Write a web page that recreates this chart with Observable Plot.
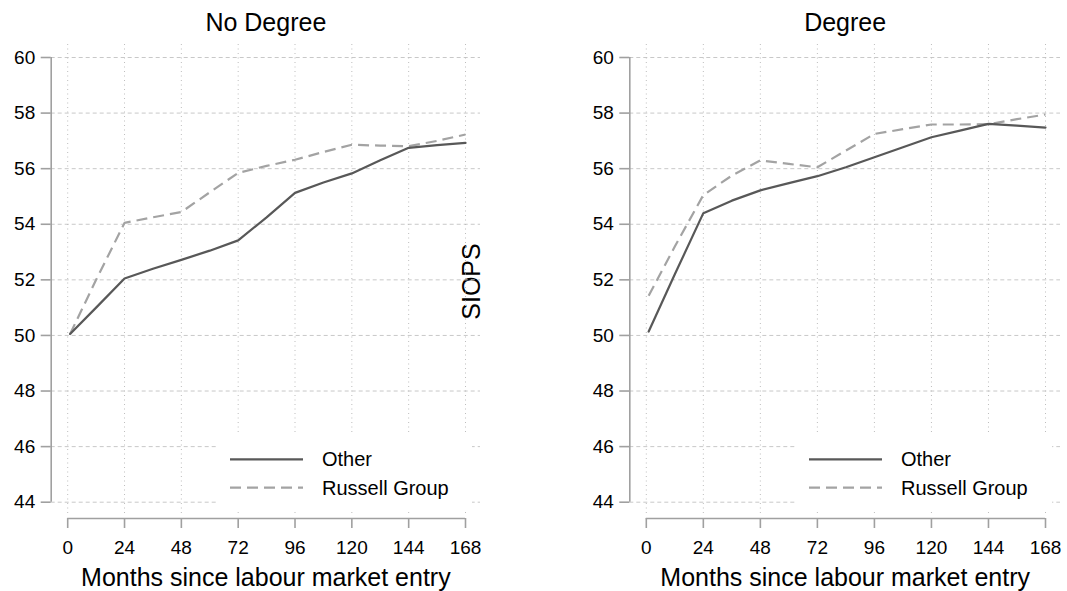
<!DOCTYPE html>
<html>
<head>
<meta charset="utf-8">
<script src="https://cdn.jsdelivr.net/npm/d3@7"></script>
<script src="https://cdn.jsdelivr.net/npm/@observablehq/plot@0.6"></script>
<style>
  body { margin: 0; background: #fff; }
  #wrap { position: relative; width: 1067px; height: 591px; overflow: hidden; background: #fff;
          font-family: "Liberation Sans", Arial, Helvetica, sans-serif; }
  #wrap > svg, #wrap > figure { position: absolute; top: 0; margin: 0; }
  .legend { position: absolute; background: #fff; }
  .legend svg { position: absolute; left: 0; top: 0; overflow: visible; }
  .legend span { position: absolute; font-size: 20px; color: #000; line-height: 20px; white-space: nowrap; }
</style>
</head>
<body>
<div id="wrap"></div>
<script>
// ---- data ----
const months = [1, 12, 24, 36, 48, 60, 72, 84, 96, 108, 120, 132, 144, 156, 168];
const noDegreeOther   = [50.05, 51.0, 52.05, 52.4, 52.72, 53.05, 53.42, 54.25, 55.13, 55.5, 55.83, 56.3, 56.75, 56.85, 56.93];
const noDegreeRussell = [50.05, 52.0, 54.05, 54.25, 54.44, 55.15, 55.85, 56.1, 56.32, 56.6, 56.86, 56.83, 56.81, 57.0, 57.23];
const degreeOther     = [50.14, 52.2, 54.4, 54.85, 55.22, 55.48, 55.73, 56.05, 56.41, 56.77, 57.13, 57.37, 57.61, 57.55, 57.48];
const degreeRussell   = [51.43, 53.2, 55.05, 55.75, 56.3, 56.17, 56.05, 56.65, 57.25, 57.42, 57.59, 57.59, 57.6, 57.78, 57.95];
const xTicks = [0, 24, 48, 72, 96, 120, 144, 168];
const yTicks = [44, 46, 48, 50, 52, 54, 56, 58, 60];
const panelTitles = ["No Degree", "Degree"];
const seriesNames = ["Other", "Russell Group"];
const xLabel = "Months since labour market entry";
const yLabel = "SIOPS";

const FONT = "'Liberation Sans', Arial, Helvetica, sans-serif";
const AXIS = "#a0a0a0";
const SOLID = "#585858";
const DASH = "#a3a3a3";
const insL = 16.5, insR = 15, insT = 13, insB = 16.3;

function panel({title, other, russell, width, marginLeft, marginRight, ylabel}) {
  const marks = [
    Plot.gridY(yTicks, {stroke: "#c8c8c8", strokeOpacity: 1, strokeWidth: 1, strokeDasharray: "4,3"}),
    Plot.gridX(xTicks, {stroke: "#bdbdbd", strokeOpacity: 1, strokeWidth: 1, strokeDasharray: "1,3.5", insetBottom: 5}),
    Plot.line(russell, {x: months, y: russell, stroke: DASH, strokeWidth: 2.2, strokeDasharray: "11,6", strokeLinecap: "butt"}),
    Plot.line(other, {x: months, y: other, stroke: SOLID, strokeWidth: 2.2}),
    Plot.ruleX([0], {y1: 44, y2: 60, dx: -insL, stroke: AXIS, strokeWidth: 1.6}),
    Plot.ruleY([44], {x1: 0, x2: 168, dy: insB, stroke: AXIS, strokeWidth: 1.6}),
    Plot.axisY(yTicks, {anchor: "left", tickSize: 10, tickPadding: 6, stroke: AXIS, strokeWidth: 1.6, fill: "#000", fontSize: 19, label: null}),
    Plot.axisX(xTicks, {anchor: "bottom", tickSize: 10, tickPadding: 12, stroke: AXIS, strokeWidth: 1.6, fill: "#000", fontSize: 19, label: null}),
    Plot.text([title], {text: d => d, frameAnchor: "top", dy: -21.3, fontSize: 25, lineAnchor: "middle", fill: "#000"}),
    Plot.text([xLabel], {text: d => d, frameAnchor: "bottom", dy: 59, fontSize: 25, lineAnchor: "middle", fill: "#000"})
  ];
  if (ylabel) marks.push(Plot.text([ylabel], {text: d => d, frameAnchor: "left", dx: -157.6, rotate: -90, fontSize: 25, lineAnchor: "middle", textAnchor: "middle", fill: "#000"}));
  return Plot.plot({
    width, height: 591,
    marginLeft, marginRight, marginTop: 44, marginBottom: 73,
    style: {background: "transparent", overflow: "visible", fontFamily: FONT, fontSize: "19px", color: "#000"},
    x: {domain: [0, 168], insetLeft: insL, insetRight: insR},
    y: {domain: [44, 60], insetTop: insT, insetBottom: insB},
    marks
  });
}

const wrap = document.getElementById("wrap");
const right = panel({title: panelTitles[1], other: degreeOther, russell: degreeRussell, width: 627, marginLeft: 189.3, marginRight: 7, ylabel: yLabel});
right.style.left = "440px";
wrap.appendChild(right);
const left = panel({title: panelTitles[0], other: noDegreeOther, russell: noDegreeRussell, width: 490, marginLeft: 50.7, marginRight: 10});
left.style.left = "0px";
wrap.appendChild(left);

function legend(x0, boxRight) {
  const box = document.createElement("div");
  box.className = "legend";
  const top = 435, bottom = 510;
  box.style.left = x0 + "px";
  box.style.top = top + "px";
  box.style.width = (boxRight - x0) + "px";
  box.style.height = (bottom - top) + "px";
  const ns = "http://www.w3.org/2000/svg";
  const svg = document.createElementNS(ns, "svg");
  svg.setAttribute("width", boxRight - x0);
  svg.setAttribute("height", bottom - top);
  const rows = [{y: 459.3, stroke: SOLID, dash: null}, {y: 487.7, stroke: DASH, dash: "11,6"}];
  rows.forEach((r, i) => {
    const ln = document.createElementNS(ns, "line");
    ln.setAttribute("x1", 12); ln.setAttribute("x2", 85);
    ln.setAttribute("y1", r.y - top); ln.setAttribute("y2", r.y - top);
    ln.setAttribute("stroke", r.stroke); ln.setAttribute("stroke-width", 2.2);
    if (r.dash) ln.setAttribute("stroke-dasharray", r.dash);
    svg.appendChild(ln);
    const sp = document.createElement("span");
    sp.textContent = seriesNames[i];
    sp.style.left = "104px";
    sp.style.top = (r.y - top - 10) + "px";
    box.appendChild(sp);
  });
  box.insertBefore(svg, box.firstChild);
  wrap.appendChild(box);
}
legend(218, 472);
legend(797, 1052);
</script>
</body>
</html>
